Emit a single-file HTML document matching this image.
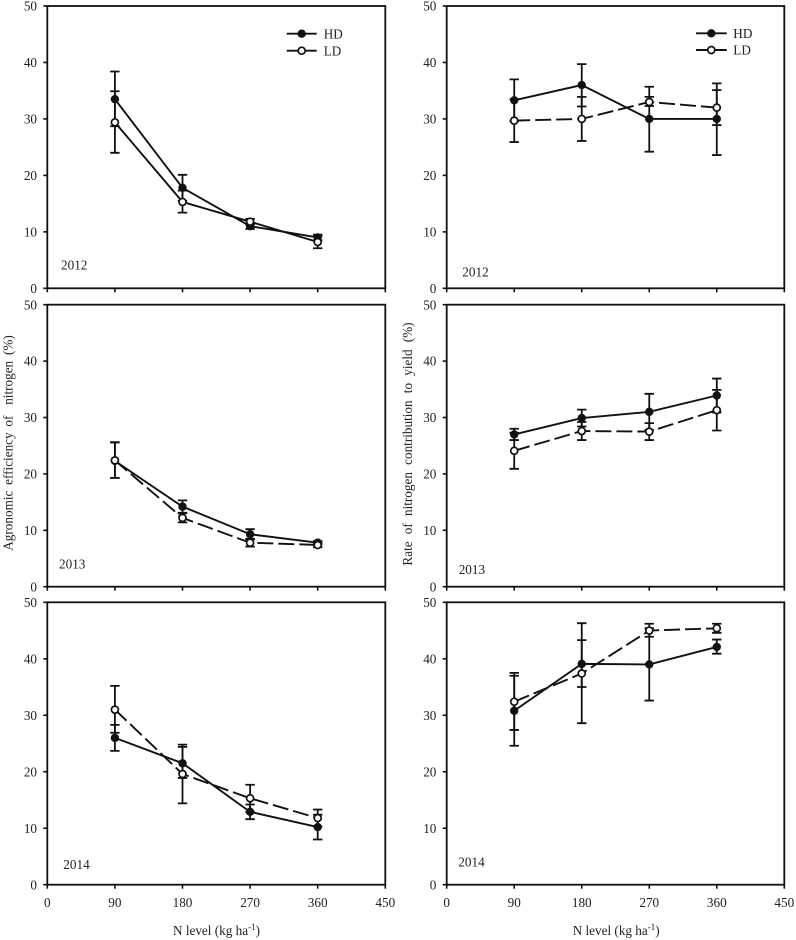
<!DOCTYPE html>
<html lang="en">
<head>
<meta charset="utf-8">
<title>Nitrogen efficiency and contribution to yield</title>
<style>
html,body{margin:0;padding:0;background:#fff;}
svg{display:block;}
text{font-family:"Liberation Serif",serif;fill:#222;font-size:13.2px;}
</style>
</head>
<body>
<svg id="figure" xmlns="http://www.w3.org/2000/svg" width="796" height="940" viewBox="0 0 796 940">
<rect x="0" y="0" width="796" height="940" fill="#fff"/>
<g id="panels"></g>

<text x="61" y="269.5">2012</text>
<text x="462.3" y="276.5">2012</text>
<text x="59" y="568.5">2013</text>
<text x="458.7" y="574">2013</text>
<text x="63.3" y="869">2014</text>
<text x="458.3" y="866.5">2014</text>

<text transform="translate(12.5,443) rotate(-90)" text-anchor="middle" word-spacing="2.5">Agronomic efficiency of<tspan dx="5"> nitrogen (%)</tspan></text>
<text transform="translate(412,444) rotate(-90)" text-anchor="middle" word-spacing="3.9">Rate of nitrogen contribution to yield (%)</text>

<text x="173" y="935">N level (kg ha<tspan font-size="9" dy="-5">-1</tspan><tspan dy="5">)</tspan></text>
<text x="572.7" y="935">N level (kg ha<tspan font-size="9" dy="-5">-1</tspan><tspan dy="5">)</tspan></text>

<g>
  <g>
    <line x1="286.7" x2="316.7" y1="33.7" y2="33.7" stroke="#111" stroke-width="1.9"/>
    <circle cx="301.7" cy="33.7" r="4.2" fill="#111"/>
    <text x="323.7" y="38.3">HD</text>
  </g>
  <g>
    <line x1="286.7" x2="316.7" y1="50.7" y2="50.7" stroke="#111" stroke-width="1.9"/>
    <circle cx="301.7" cy="50.7" r="3.5" fill="#fff" stroke="#111" stroke-width="1.7"/>
    <text x="323.7" y="55.3">LD</text>
  </g>
</g>
<g>
  <g>
    <line x1="696" x2="726.7" y1="33.3" y2="33.3" stroke="#111" stroke-width="1.9"/>
    <circle cx="711.3" cy="33.3" r="4.2" fill="#111"/>
    <text x="733.3" y="38">HD</text>
  </g>
  <g>
    <line x1="696" x2="726.7" y1="50" y2="50" stroke="#111" stroke-width="1.9"/>
    <circle cx="711.3" cy="50" r="3.5" fill="#fff" stroke="#111" stroke-width="1.7"/>
    <text x="733.3" y="54.7">LD</text>
  </g>
</g>
</svg>

<script>
// Shared categories and tick labels
const nLevels = [90, 180, 270, 360];
const xTickLabels = [0, 90, 180, 270, 360, 450];
const yTickLabels = [0, 10, 20, 30, 40, 50];

// Agronomic efficiency 2012
const ae2012HdMean = [33.5, 17.8, 11.0, 9.0];
const ae2012HdUpper = [38.4, 20.1, 11.5, 9.5];
const ae2012HdLower = [28.7, 15.5, 10.5, 8.5];
const ae2012LdMean = [29.4, 15.3, 11.8, 8.2];
const ae2012LdUpper = [34.9, 17.3, 12.3, 9.3];
const ae2012LdLower = [24.0, 13.4, 11.3, 7.1];

// Contribution to yield 2012
const rc2012HdMean = [33.3, 36.0, 30.0, 30.0];
const rc2012HdUpper = [37.0, 39.7, 35.7, 36.3];
const rc2012HdLower = [29.6, 32.2, 24.2, 23.6];
const rc2012LdMean = [29.7, 30.0, 33.0, 32.0];
const rc2012LdUpper = [33.5, 33.9, 33.9, 35.1];
const rc2012LdLower = [25.9, 26.1, 32.3, 28.9];

// Agronomic efficiency 2013
const ae2013HdMean = [22.3, 14.2, 9.3, 7.8];
const ae2013HdUpper = [25.6, 15.3, 10.2, 8.1];
const ae2013HdLower = [19.3, 13.1, 8.4, 7.5];
const ae2013LdMean = [22.4, 12.2, 7.8, 7.4];
const ae2013LdUpper = [25.6, 13.0, 8.5, 7.8];
const ae2013LdLower = [19.3, 11.4, 7.1, 7.0];

// Contribution to yield 2013
const rc2013HdMean = [27.0, 29.9, 31.0, 33.9];
const rc2013HdUpper = [28.0, 31.4, 34.2, 36.9];
const rc2013HdLower = [26.0, 28.4, 27.8, 30.9];
const rc2013LdMean = [24.1, 27.6, 27.5, 31.3];
const rc2013LdUpper = [27.3, 29.2, 29.0, 34.9];
const rc2013LdLower = [20.9, 26.0, 26.0, 27.7];

// Agronomic efficiency 2014
const ae2014HdMean = [26.0, 21.5, 12.9, 10.2];
const ae2014HdUpper = [28.3, 24.4, 14.2, 12.4];
const ae2014HdLower = [23.7, 18.9, 11.6, 8.0];
const ae2014LdMean = [31.0, 19.6, 15.3, 11.8];
const ae2014LdUpper = [35.2, 24.8, 17.7, 13.3];
const ae2014LdLower = [26.9, 14.4, 12.9, 10.3];

// Contribution to yield 2014
const rc2014HdMean = [30.8, 39.1, 39.0, 42.1];
const rc2014HdUpper = [37.0, 43.3, 45.4, 43.4];
const rc2014HdLower = [24.6, 35.0, 32.6, 40.9];
const rc2014LdMean = [32.4, 37.4, 45.0, 45.4];
const rc2014LdUpper = [37.5, 46.3, 46.2, 46.2];
const rc2014LdLower = [27.4, 28.6, 43.9, 44.6];

const NS = 'http://www.w3.org/2000/svg';
const INK = '#111';
const root = document.getElementById('panels');

function make(tag, attrs, parent) {
  const el = document.createElementNS(NS, tag);
  for (const k in attrs) el.setAttribute(k, attrs[k]);
  parent.appendChild(el);
  return el;
}

function drawSeries(parent, name, xAxis, yAxis, mean, upper, lower, isOpen, isDashed) {
  const group = make('g', {}, parent);
  
  
  nLevels.forEach(function (level, i) {
    const px = xAxis(level);
    const bar = make('path', {
      d: 'M' + px + ' ' + yAxis(upper[i]) + 'V' + yAxis(lower[i]) +
         'M' + (px - 4.7) + ' ' + yAxis(upper[i]) + 'H' + (px + 4.7) +
         'M' + (px - 4.7) + ' ' + yAxis(lower[i]) + 'H' + (px + 4.7),
      fill: 'none', stroke: INK, 'stroke-width': 1.8
    }, group);
    
    
  });
  const pts = nLevels.map(function (level, i) { return xAxis(level) + ',' + yAxis(mean[i]); }).join(' ');
  const line = make('polyline', {
    points: pts, fill: 'none', stroke: INK, 'stroke-width': 1.9
  }, group);
  if (isDashed) line.setAttribute('stroke-dasharray', '16 5');
  
  
  nLevels.forEach(function (level, i) {
    const dot = make('circle', {
      cx: xAxis(level), cy: yAxis(mean[i]),
      r: isOpen ? 3.5 : 4.2,
      fill: isOpen ? '#fff' : INK,
      stroke: isOpen ? INK : 'none',
      'stroke-width': isOpen ? 1.7 : 0
    }, group);
    
    
  });
}

function drawPanel(name, left, right, top, bottom, showX, hd, ld, ldDashed) {
  const xAxis = function (v) { return left + (right - left) * v / 450; };
  const yAxis = function (v) { return bottom - (bottom - top) * v / 50; };
  const panel = make('g', {}, root);
  
  

  const frame = make('rect', {
    x: left, y: top, width: right - left, height: bottom - top,
    fill: 'none', stroke: INK, 'stroke-width': 1.8
  }, panel);
  
  

  yTickLabels.forEach(function (t) {
    const mark = make('line', {
      x1: left - 4, x2: left, y1: yAxis(t), y2: yAxis(t), stroke: INK, 'stroke-width': 1.6
    }, panel);
    
    
    const label = make('text', { x: left - 10.3, y: yAxis(t) + 4.6, 'text-anchor': 'end' }, panel);
    label.textContent = String(t);
    
    
  });

  xTickLabels.forEach(function (t) {
    const mark = make('line', {
      x1: xAxis(t), x2: xAxis(t), y1: bottom, y2: bottom + 4, stroke: INK, 'stroke-width': 1.6
    }, panel);
    
    
    if (showX) {
      const label = make('text', { x: xAxis(t), y: bottom + 22.5, 'text-anchor': 'middle' }, panel);
      label.textContent = String(t);
      
      
    }
  });

  drawSeries(panel, 'hd', xAxis, yAxis, hd[0], hd[1], hd[2], false, false);
  drawSeries(panel, 'ld', xAxis, yAxis, ld[0], ld[1], ld[2], true, ldDashed);
}

drawPanel('panel-efficiency-2012', 47.3, 385.3, 6, 288.3, false,
  [ae2012HdMean, ae2012HdUpper, ae2012HdLower], [ae2012LdMean, ae2012LdUpper, ae2012LdLower], false);
drawPanel('panel-contribution-2012', 446.7, 784.3, 6, 288.3, false,
  [rc2012HdMean, rc2012HdUpper, rc2012HdLower], [rc2012LdMean, rc2012LdUpper, rc2012LdLower], true);
drawPanel('panel-efficiency-2013', 47.3, 385.3, 304.7, 586.7, false,
  [ae2013HdMean, ae2013HdUpper, ae2013HdLower], [ae2013LdMean, ae2013LdUpper, ae2013LdLower], true);
drawPanel('panel-contribution-2013', 446.7, 784.3, 304.7, 586.7, false,
  [rc2013HdMean, rc2013HdUpper, rc2013HdLower], [rc2013LdMean, rc2013LdUpper, rc2013LdLower], true);
drawPanel('panel-efficiency-2014', 47.3, 385.3, 602.3, 884.7, true,
  [ae2014HdMean, ae2014HdUpper, ae2014HdLower], [ae2014LdMean, ae2014LdUpper, ae2014LdLower], true);
drawPanel('panel-contribution-2014', 446.7, 784.3, 602.3, 884.7, true,
  [rc2014HdMean, rc2014HdUpper, rc2014HdLower], [rc2014LdMean, rc2014LdUpper, rc2014LdLower], true);
</script>
</body>
</html>
